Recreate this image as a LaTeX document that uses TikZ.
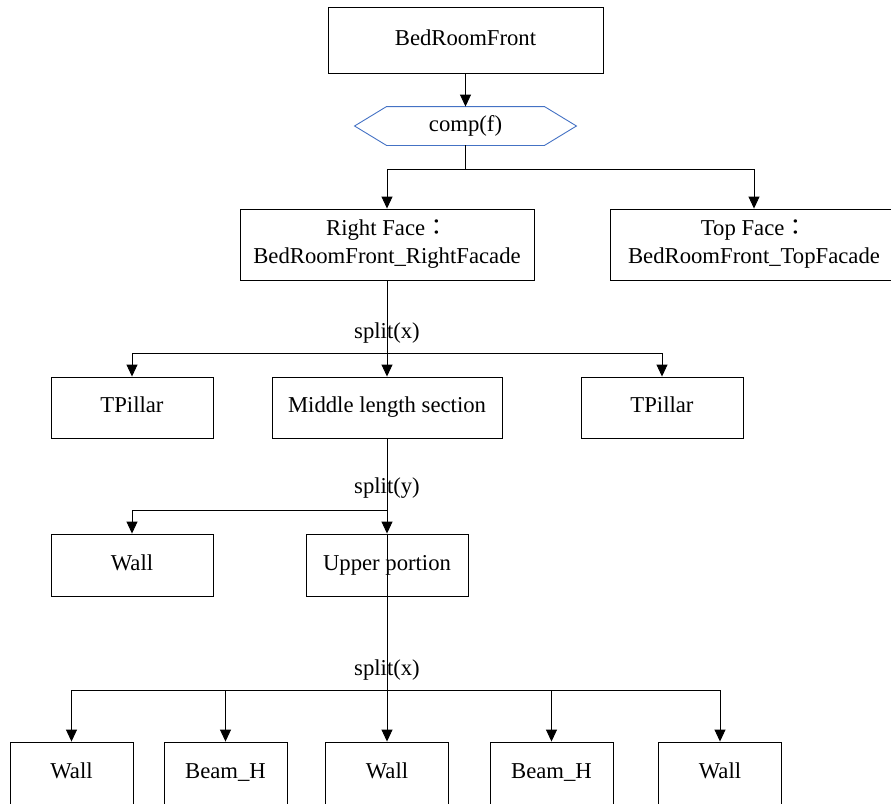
\documentclass[tikz,border=0pt]{standalone}
\usepackage{fontspec}
\setmainfont{Liberation Serif}
\newfontfamily\cjk{Noto Sans CJK TC}
\usepackage{tikz}
\usetikzlibrary{arrows.meta}
\definecolor{hexblue}{RGB}{68,114,196}

\begin{document}
\begin{tikzpicture}[x=1pt,y=-1pt,line width=0.9pt,
    >={Triangle[length=12pt,width=11pt]},
    box/.style={draw,inner sep=0pt,align=center,font=\fontsize{22.7}{28}\selectfont},
    one/.style={text height=15.5pt,text depth=5pt},
    lbl/.style={inner sep=0pt,text height=15.5pt,text depth=5pt,font=\fontsize{22.7}{28}\selectfont}]
  \useasboundingbox (0,0) rectangle (891,803);
  \node[box,one,minimum width=275,minimum height=66] (front) at (465.5,40) {BedRoomFront};
  \node[lbl,minimum width=221,minimum height=38] (comp) at (465.5,126) {comp(f)};
  \draw[hexblue] (comp.west) -- ([xshift=32pt]comp.north west) -- ([xshift=-32pt]comp.north east)
    -- (comp.east) -- ([xshift=-32pt]comp.south east) -- ([xshift=32pt]comp.south west) -- cycle;
  \node[box,minimum width=294,minimum height=71] (rface) at (387,244.5) {Right Face{\cjk ：}\\BedRoomFront\_RightFacade};
  \node[box,minimum width=288,minimum height=71] (tface) at (754,244.5) {Top Face{\cjk ：}\\BedRoomFront\_TopFacade};
  \node[lbl] (splitxa) at (387,333) {split(x)};
  \node[box,one,minimum width=162,minimum height=61] (pillara) at (132,407.5) {TPillar};
  \node[box,one,minimum width=230,minimum height=61] (middle) at (387,407.5) {Middle length section};
  \node[box,one,minimum width=162,minimum height=61] (pillarb) at (662,407.5) {TPillar};
  \node[lbl] (splity) at (387,488) {split(y)};
  \node[box,one,minimum width=162,minimum height=62] (wall) at (132,565) {Wall};
  \node[box,one,minimum width=162,minimum height=62] (upper) at (387,565) {Upper portion};
  \node[lbl] (splitxb) at (387,670) {split(x)};
  \node[box,one,minimum width=123,minimum height=62] (walla) at (71.5,773) {Wall};
  \node[box,one,minimum width=123,minimum height=62] (beama) at (225.5,773) {Beam\_H};
  \node[box,one,minimum width=123,minimum height=62] (wallb) at (387,773) {Wall};
  \node[box,one,minimum width=123,minimum height=62] (beamb) at (551.5,773) {Beam\_H};
  \node[box,one,minimum width=123,minimum height=62] (wallc) at (720,773) {Wall};
  % comp
  \draw[->] (front) -- (comp);
  \draw[->] (comp.south) -- ++(0,24) -| (rface.north);
  \draw[->] (comp.south) -- ++(0,24) -| (tface.north);
  % split(x)
  \draw[->] (rface) -- (middle);
  \draw[->] (rface.south) -- ++(0,72.5) -| (pillara.north);
  \draw[->] (rface.south) -- ++(0,72.5) -| (pillarb.north);
  % split(y)
  \draw[->] (middle) -- (upper);
  \draw[->] (middle.south) -- ++(0,72) -| (wall.north);
  % split(x)
  \draw[->] (upper.north) -- (wallb.north);
  \foreach \n in {walla,beama,beamb,wallc}
    \draw[->] (upper.south) -- ++(0,94) -| (\n.north);
\end{tikzpicture}
\end{document}
